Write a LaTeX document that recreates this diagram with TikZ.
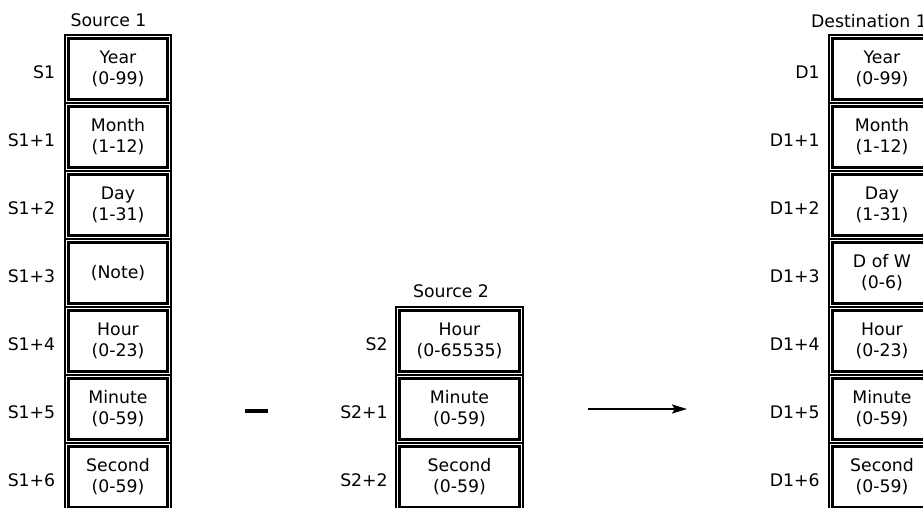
\documentclass[tikz,border=0pt]{standalone}
\usepackage{fontspec}
\setmainfont{DejaVu Sans}
\usetikzlibrary{
  positioning,
  arrows.meta
}

\begin{document}
\begin{tikzpicture}[
  node distance=0cm,
  cell/.style={
    draw,
    line width=0.033cm,
    outer sep=0pt,
    inner sep=0pt,
    minimum width=2.65cm,
    minimum height=1.7cm,
    align=center,
    font=\fontsize{12.3}{14.9}\selectfont,
    path picture={
      \draw[line width=0.065cm]
        ([shift={(0.09,-0.09)}]path picture bounding box.north west) rectangle
        ([shift={(-0.09,0.09)}]path picture bounding box.south east);
    }
  },
  widecell/.style={cell, minimum width=3.175cm},
  addr/.style={inner sep=0pt, font=\fontsize{12.3}{14.9}\selectfont},
  title/.style={inner sep=0pt, font=\fontsize{12.3}{14.9}\selectfont},
  arrow/.style={-{Stealth[length=0.375cm, width=0.225cm, inset=0.07cm]}, line width=0.05cm}
]

% Frame
\useasboundingbox (0,0) rectangle (23.075,-12.675);
\clip (0,0) rectangle (23.075,-12.675);

% ==================== SOURCE 1 ====================
\node[title] (src1title) at (2.7125,-0.5125) {Source 1};

\node[cell] (s1year) at (2.95,-1.725) {Year\\(0-99)};
\node[cell, below=of s1year] (s1month) {Month\\(1-12)};
\node[cell, below=of s1month] (s1day) {Day\\(1-31)};
\node[cell, below=of s1day] (s1note) {(Note)};
\node[cell, below=of s1note] (s1hour) {Hour\\(0-23)};
\node[cell, below=of s1hour] (s1min) {Minute\\(0-59)};
\node[cell, below=of s1min] (s1sec) {Second\\(0-59)};

% Addresses
\node[addr, left=0.2375cm of s1year, yshift=-0.0875cm] (s1yearaddr) {S1};
\node[addr, left=0.2375cm of s1month, yshift=-0.0875cm] (s1monthaddr) {S1+1};
\node[addr, left=0.2375cm of s1day, yshift=-0.0875cm] (s1dayaddr) {S1+2};
\node[addr, left=0.2375cm of s1note, yshift=-0.0875cm] (s1noteaddr) {S1+3};
\node[addr, left=0.2375cm of s1hour, yshift=-0.0875cm] (s1houraddr) {S1+4};
\node[addr, left=0.2375cm of s1min, yshift=-0.0875cm] (s1minaddr) {S1+5};
\node[addr, left=0.2375cm of s1sec, yshift=-0.0875cm] (s1secaddr) {S1+6};

% Minus sign
\node[fill=black, inner sep=0pt, minimum width=0.575cm, minimum height=0.1125cm] (minus) at (6.4125,-10.275) {};

% ==================== SOURCE 2 ====================
\node[title] (src2title) at (11.275,-7.2875) {Source 2};

\node[widecell] (s2hour) at (11.4875,-8.525) {Hour\\(0-65535)};
\node[widecell, below=of s2hour] (s2min) {Minute\\(0-59)};
\node[widecell, below=of s2min] (s2sec) {Second\\(0-59)};

\node[addr, left=0.2cm of s2hour, yshift=-0.0875cm] (s2houraddr) {S2};
\node[addr, left=0.2cm of s2min, yshift=-0.0875cm] (s2minaddr) {S2+1};
\node[addr, left=0.2cm of s2sec, yshift=-0.0875cm] (s2secaddr) {S2+2};

% Result arrow
\coordinate (arrowstart) at (14.7,-10.225);
\coordinate (arrowend) at (17.175,-10.225);
\draw[arrow] (arrowstart) -- (arrowend);

% ==================== DESTINATION 1 ====================
\node[title] (dst1title) at (21.725,-0.525) {Destination 1};

\node[cell] (d1year) at (22.05,-1.725) {Year\\(0-99)};
\node[cell, below=of d1year] (d1month) {Month\\(1-12)};
\node[cell, below=of d1month] (d1day) {Day\\(1-31)};
\node[cell, below=of d1day] (d1dow) {D of W\\(0-6)};
\node[cell, below=of d1dow] (d1hour) {Hour\\(0-23)};
\node[cell, below=of d1hour] (d1min) {Minute\\(0-59)};
\node[cell, below=of d1min] (d1sec) {Second\\(0-59)};

\node[addr, left=0.225cm of d1year, yshift=-0.0875cm] (d1yearaddr) {D1};
\node[addr, left=0.225cm of d1month, yshift=-0.0875cm] (d1monthaddr) {D1+1};
\node[addr, left=0.225cm of d1day, yshift=-0.0875cm] (d1dayaddr) {D1+2};
\node[addr, left=0.225cm of d1dow, yshift=-0.0875cm] (d1dowaddr) {D1+3};
\node[addr, left=0.225cm of d1hour, yshift=-0.0875cm] (d1houraddr) {D1+4};
\node[addr, left=0.225cm of d1min, yshift=-0.0875cm] (d1minaddr) {D1+5};
\node[addr, left=0.225cm of d1sec, yshift=-0.0875cm] (d1secaddr) {D1+6};

\end{tikzpicture}
\end{document}
